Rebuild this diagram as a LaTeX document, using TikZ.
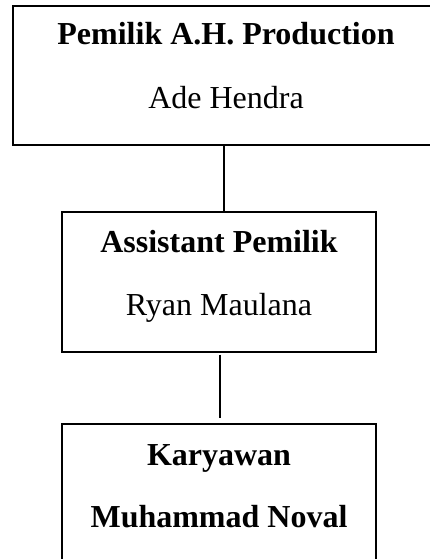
\documentclass[tikz,border=0pt]{standalone}
\usepackage{fontspec}
\setmainfont{Liberation Serif}
\usepackage{tikz}
\usetikzlibrary{positioning}

\begin{document}
\begin{tikzpicture}[x=1pt, y=-1pt,
    box/.style={draw, line width=1.4pt, rectangle, inner sep=0pt},
    title/.style={font=\fontsize{32}{38}\selectfont\bfseries, anchor=base, inner sep=0pt},
    person/.style={font=\fontsize{32}{38}\selectfont, anchor=base, inner sep=0pt}]
  \useasboundingbox (0, 0) rectangle (430, 559);
  % --- boxes -------------------------------------------------------
  \node[box, minimum width=427pt, minimum height=139pt] (owner) at (226.5, 75.5) {};
  \node[box, minimum width=314pt, minimum height=140pt] (assistant) at (219, 282) {};
  \node[box, minimum width=314pt, minimum height=140pt] (staff) at (219, 494) {};
  % --- texts -------------------------------------------------------
  \node[title]  (ownerTitle)     at (226, 45)  {Pemilik A.H. Production};
  \node[person] (ownerName)      at (226, 109) {Ade Hendra};
  \node[title]  (assistantTitle) at (219, 252) {Assistant Pemilik};
  \node[person] (assistantName)  at (219, 315) {Ryan Maulana};
  \node[title]  (staffTitle)     at (219, 465) {Karyawan};
  \node[title]  (staffName)      at (219, 527) {Muhammad Noval};
  % --- connectors --------------------------------------------------
  \draw[line width=1.4pt] ([xshift=-2.5pt]owner.south) -- ([xshift=5pt]assistant.north);
  \draw[line width=1.4pt, shorten <=2pt, shorten >=5pt] ([xshift=1pt]assistant.south) -- ([xshift=1pt]staff.north);
\end{tikzpicture}
\end{document}
